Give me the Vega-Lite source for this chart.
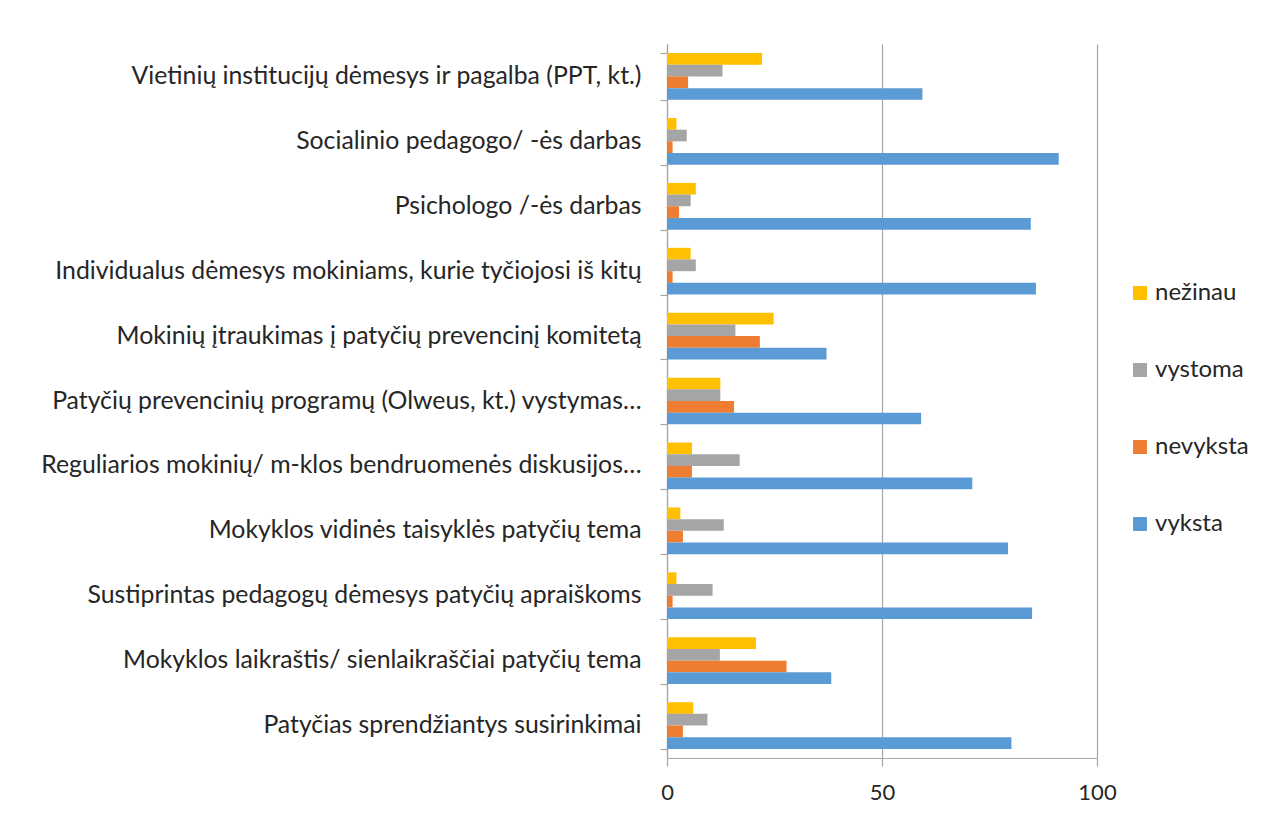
{
  "$schema": "https://vega.github.io/schema/vega-lite/v6.json",
  "autosize": {"type": "none"},
  "padding": {"left": 667, "top": 44, "right": 183, "bottom": 58},
  "width": 430,
  "height": 714,
  "background": "white",
  "data": {
    "values": [
      {"k": "Vietinių institucijų dėmesys ir pagalba (PPT, kt.)", "s": "nežinau", "v": 22.1},
      {"k": "Vietinių institucijų dėmesys ir pagalba (PPT, kt.)", "s": "vystoma", "v": 12.9},
      {"k": "Vietinių institucijų dėmesys ir pagalba (PPT, kt.)", "s": "nevyksta", "v": 4.9},
      {"k": "Vietinių institucijų dėmesys ir pagalba (PPT, kt.)", "s": "vyksta", "v": 59.4},
      {"k": "Socialinio pedagogo/ -ės darbas", "s": "nežinau", "v": 2.2},
      {"k": "Socialinio pedagogo/ -ės darbas", "s": "vystoma", "v": 4.6},
      {"k": "Socialinio pedagogo/ -ės darbas", "s": "nevyksta", "v": 1.3},
      {"k": "Socialinio pedagogo/ -ės darbas", "s": "vyksta", "v": 91.1},
      {"k": "Psichologo /-ės darbas", "s": "nežinau", "v": 6.7},
      {"k": "Psichologo /-ės darbas", "s": "vystoma", "v": 5.5},
      {"k": "Psichologo /-ės darbas", "s": "nevyksta", "v": 2.8},
      {"k": "Psichologo /-ės darbas", "s": "vyksta", "v": 84.6},
      {"k": "Individualus dėmesys mokiniams, kurie tyčiojosi iš kitų", "s": "nežinau", "v": 5.5},
      {"k": "Individualus dėmesys mokiniams, kurie tyčiojosi iš kitų", "s": "vystoma", "v": 6.7},
      {"k": "Individualus dėmesys mokiniams, kurie tyčiojosi iš kitų", "s": "nevyksta", "v": 1.3},
      {"k": "Individualus dėmesys mokiniams, kurie tyčiojosi iš kitų", "s": "vyksta", "v": 85.8},
      {"k": "Mokinių įtraukimas į patyčių prevencinį komitetą", "s": "nežinau", "v": 24.8},
      {"k": "Mokinių įtraukimas į patyčių prevencinį komitetą", "s": "vystoma", "v": 15.9},
      {"k": "Mokinių įtraukimas į patyčių prevencinį komitetą", "s": "nevyksta", "v": 21.6},
      {"k": "Mokinių įtraukimas į patyčių prevencinį komitetą", "s": "vyksta", "v": 37.1},
      {"k": "Patyčių prevencinių programų (Olweus, kt.) vystymas…", "s": "nežinau", "v": 12.4},
      {"k": "Patyčių prevencinių programų (Olweus, kt.) vystymas…", "s": "vystoma", "v": 12.4},
      {"k": "Patyčių prevencinių programų (Olweus, kt.) vystymas…", "s": "nevyksta", "v": 15.6},
      {"k": "Patyčių prevencinių programų (Olweus, kt.) vystymas…", "s": "vyksta", "v": 59.1},
      {"k": "Reguliarios mokinių/ m-klos bendruomenės diskusijos…", "s": "nežinau", "v": 5.8},
      {"k": "Reguliarios mokinių/ m-klos bendruomenės diskusijos…", "s": "vystoma", "v": 16.9},
      {"k": "Reguliarios mokinių/ m-klos bendruomenės diskusijos…", "s": "nevyksta", "v": 5.8},
      {"k": "Reguliarios mokinių/ m-klos bendruomenės diskusijos…", "s": "vyksta", "v": 71.0},
      {"k": "Mokyklos vidinės taisyklės patyčių tema", "s": "nežinau", "v": 3.1},
      {"k": "Mokyklos vidinės taisyklės patyčių tema", "s": "vystoma", "v": 13.2},
      {"k": "Mokyklos vidinės taisyklės patyčių tema", "s": "nevyksta", "v": 3.7},
      {"k": "Mokyklos vidinės taisyklės patyčių tema", "s": "vyksta", "v": 79.3},
      {"k": "Sustiprintas pedagogų dėmesys patyčių apraiškoms", "s": "nežinau", "v": 2.2},
      {"k": "Sustiprintas pedagogų dėmesys patyčių apraiškoms", "s": "vystoma", "v": 10.6},
      {"k": "Sustiprintas pedagogų dėmesys patyčių apraiškoms", "s": "nevyksta", "v": 1.3},
      {"k": "Sustiprintas pedagogų dėmesys patyčių apraiškoms", "s": "vyksta", "v": 84.9},
      {"k": "Mokyklos laikraštis/ sienlaikraščiai patyčių tema", "s": "nežinau", "v": 20.7},
      {"k": "Mokyklos laikraštis/ sienlaikraščiai patyčių tema", "s": "vystoma", "v": 12.3},
      {"k": "Mokyklos laikraštis/ sienlaikraščiai patyčių tema", "s": "nevyksta", "v": 27.8},
      {"k": "Mokyklos laikraštis/ sienlaikraščiai patyčių tema", "s": "vyksta", "v": 38.2},
      {"k": "Patyčias sprendžiantys susirinkimai", "s": "nežinau", "v": 6.1},
      {"k": "Patyčias sprendžiantys susirinkimai", "s": "vystoma", "v": 9.4},
      {"k": "Patyčias sprendžiantys susirinkimai", "s": "nevyksta", "v": 3.7},
      {"k": "Patyčias sprendžiantys susirinkimai", "s": "vyksta", "v": 80.1}
    ]
  },
  "mark": {"type": "bar"},
  "encoding": {
    "y": {
      "field": "k",
      "type": "nominal",
      "sort": null,
      "scale": {"paddingInner": 0.28, "paddingOuter": 0.14},
      "axis": {
        "title": null,
        "tickBand": "extent",
        "tickSize": 7,
        "tickColor": "#A6A6A6",
        "domainColor": "#A6A6A6",
        "labelFont": "Lato",
        "labelFontSize": 24.8,
        "labelColor": "#262626",
        "labelPadding": 19,
        "labelLimit": 700
      }
    },
    "yOffset": {
      "field": "s",
      "type": "nominal",
      "scale": {"domain": ["nežinau", "vystoma", "nevyksta", "vyksta"], "paddingInner": 0, "paddingOuter": 0}
    },
    "x": {
      "field": "v",
      "type": "quantitative",
      "scale": {"domain": [0, 100], "nice": false},
      "axis": {
        "title": null,
        "values": [0, 50, 100],
        "grid": true,
        "gridColor": "#A6A6A6",
        "gridWidth": 1.2,
        "tickSize": 8,
        "tickColor": "#A6A6A6",
        "domainColor": "#A6A6A6",
        "labelFont": "Lato",
        "labelFontSize": 22,
        "labelColor": "#262626",
        "labelPadding": 16,
        "labelFlush": false
      }
    },
    "color": {
      "field": "s",
      "type": "nominal",
      "scale": {
        "domain": ["nežinau", "vystoma", "nevyksta", "vyksta"],
        "range": ["#FFC000", "#A5A5A5", "#ED7D31", "#5B9BD5"]
      },
      "legend": {
        "title": null,
        "orient": "none",
        "legendX": 461,
        "legendY": 237,
        "symbolType": "square",
        "symbolSize": 196,
        "symbolStrokeWidth": 0,
        "labelFont": "Lato",
        "labelFontSize": 24,
        "labelColor": "#262626",
        "labelOffset": 3,
        "rowPadding": 53
      }
    }
  },
  "config": {
    "view": {"stroke": null},
    "axis": {"domainWidth": 1.2, "tickWidth": 1.2}
  }
}
